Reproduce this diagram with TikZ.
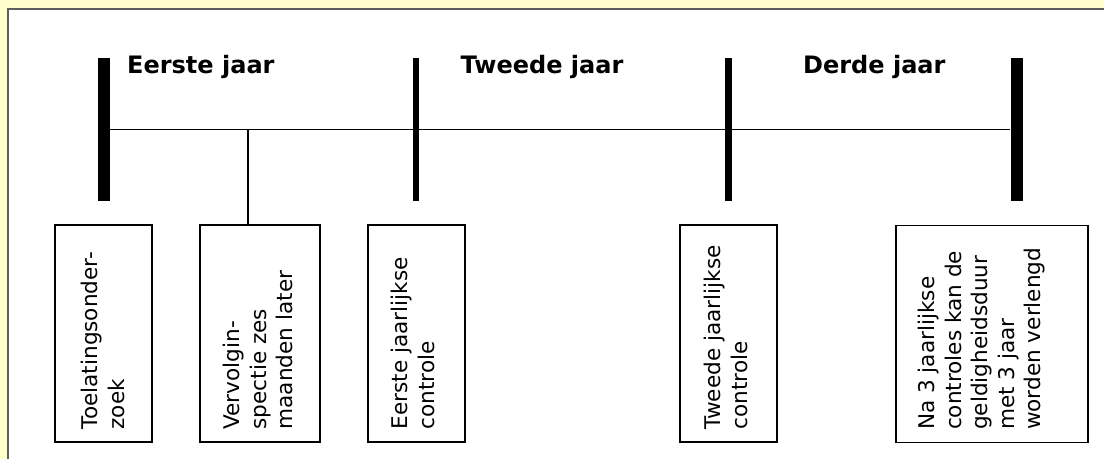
\documentclass[tikz,border=0pt]{standalone}
\usepackage{fontspec}
\setmainfont{DejaVu Sans}
\usetikzlibrary{calc}
\definecolor{bgyellow}{HTML}{FFFFCC}
\definecolor{framegray}{HTML}{5E5E5E}
\begin{document}
\begin{tikzpicture}[x=1pt,y=-1pt,
  bar/.style={fill=black,draw=none,inner sep=0pt,minimum height=143pt},
  thickbar/.style={bar,minimum width=12pt},
  thinbar/.style={bar,minimum width=6.5pt},
  eventbox/.style={draw=black,line width=1.3pt,inner sep=0pt,minimum height=217pt},
  yearlabel/.style={font=\bfseries\fontsize{24}{29}\selectfont,inner sep=0pt,anchor=base west},
  boxtext/.style={font=\fontsize{21.6}{26.5}\selectfont,rotate=90,align=left,inner sep=0pt,anchor=north west},
  axis/.style={line width=1.6pt},
  link/.style={line width=1.6pt}]
\useasboundingbox (0,0) rectangle (1104,459);
\fill[bgyellow] (0,0) rectangle (1104,459);
\fill[white] (8,9) rectangle (1104,459);
\draw[framegray,line width=1.5pt] (8,459) -- (8,9) -- (1104,9);

% year bars
\node[thickbar] (b1) at (104,129.5) {};
\node[thinbar]  (b2) at (416,129.5) {};
\node[thinbar]  (b3) at (728.5,129.5) {};
\node[thickbar] (b4) at (1016.5,129.5) {};
\draw[axis] (b1.east) -- (b4.west);

% year labels
\node[yearlabel] (y1) at (127,73) {Eerste jaar};
\node[yearlabel] (y2) at (460.5,73) {Tweede jaar};
\node[yearlabel] (y3) at (803,73) {Derde jaar};

% event boxes
\node[eventbox,minimum width=97pt]  (box1) at (103.5,333.5) {};
\node[eventbox,minimum width=120pt] (box2) at (260,333.5) {};
\node[eventbox,minimum width=97pt]  (box3) at (416.5,333.5) {};
\node[eventbox,minimum width=97pt]  (box4) at (728.5,333.5) {};
\node[eventbox,minimum width=192pt] (box5) at (992,334) {};

\coordinate (fork) at (248,129.5);
\draw[link] (fork) -- (fork |- box2.north);

% texts
\node[boxtext] (t1) at ($(box1.south west)+(27,-13)$) {Toelatingsonder-\\zoek};
\node[boxtext] (t2) at ($(box2.south west)+(24,-13)$) {Vervolgin-\\spectie zes\\maanden later};
\node[boxtext] (t3) at ($(box3.south west)+(24,-13)$) {Eerste jaarlijkse\\controle};
\node[boxtext] (t4) at ($(box4.south west)+(25,-13)$) {Tweede jaarlijkse\\controle};
\node[boxtext] (t5) at ($(box5.south west)+(23,-13)$) {Na 3 jaarlijkse\\controles kan de\\geldigheidsduur\\met 3 jaar\\worden verlengd};
\end{tikzpicture}
\end{document}
